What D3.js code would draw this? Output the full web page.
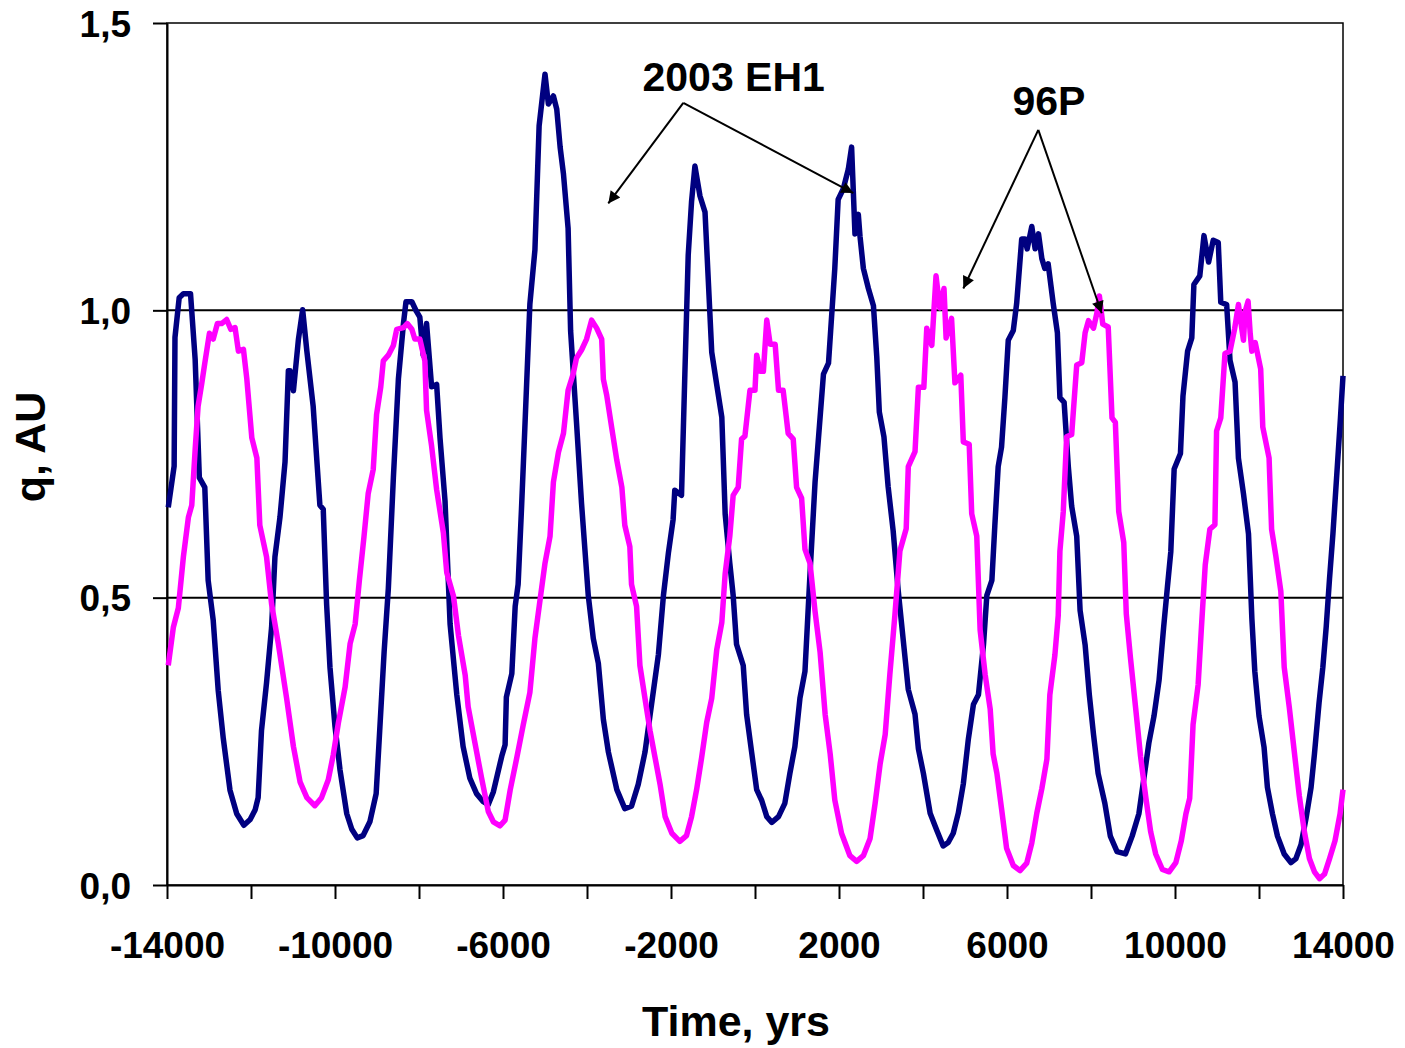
<!DOCTYPE html>
<html>
<head>
<meta charset="utf-8">
<script src="https://cdn.jsdelivr.net/npm/d3@7"></script>
<style>
  body { margin: 0; background: #fff; }
  text { font-family: "Liberation Sans", Arial, sans-serif; font-weight: bold; fill: #000; }
</style>
</head>
<body>
<div id="chart"></div>
<script>
/* 2003 EH1 perihelion distance (navy) */
var ehTime = [-13970, -13830, -13810, -13710, -13610, -13440, -13330, -13230, -13100, -13020,
  -12900, -12780, -12660, -12500, -12340, -12170, -12020, -11900, -11830, -11750,
  -11630, -11510, -11430, -11310, -11190, -11110, -11070, -10990, -10870, -10770,
  -10670, -10520, -10360, -10280, -10200, -10120, -10000, -9880, -9720, -9600,
  -9470, -9330, -9170, -9020, -8930, -8830, -8730, -8610, -8490, -8370,
  -8310, -8170, -8060, -7980, -7900, -7820, -7700, -7580, -7500, -7380,
  -7260, -7100, -6950, -6790, -6630, -6470, -6350, -6230, -6030, -5950,
  -5920, -5790, -5710, -5640, -5560, -5480, -5360, -5240, -5140, -5000,
  -4920, -4800, -4720, -4640, -4560, -4450, -4390, -4250, -4130, -3970,
  -3850, -3730, -3610, -3490, -3290, -3100, -2940, -2780, -2620, -2460,
  -2300, -2180, -2060, -1950, -1910, -1750, -1670, -1590, -1510, -1430,
  -1310, -1190, -1110, -1030, -910, -790, -710, -600, -520, -440,
  -280, -200, -80, 40, 160, 280, 400, 560, 710, 830,
  950, 1070, 1190, 1310, 1430, 1550, 1630, 1750, 1900, 1980,
  2100, 2220, 2300, 2380, 2460, 2500, 2580, 2700, 2820, 2900,
  2960, 3070, 3170, 3290, 3410, 3530, 3650, 3810, 3890, 4010,
  4170, 4330, 4480, 4600, 4720, 4840, 4960, 5080, 5200, 5320,
  5440, 5520, 5640, 5710, 5790, 5870, 5950, 6030, 6150, 6230,
  6350, 6430, 6480, 6590, 6670, 6750, 6830, 6900, 6980, 7100,
  7200, 7260, 7360, 7460, 7540, 7660, 7740, 7860, 7960, 8060,
  8170, 8330, 8460, 8620, 8820, 8980, 9140, 9260, 9380, 9500,
  9620, 9730, 9820, 9900, 9980, 10130, 10190, 10300, 10400, 10450,
  10590, 10690, 10800, 10910, 11030, 11090, 11230, 11310, 11430, 11510,
  11630, 11750, 11830, 11900, 12000, 12120, 12200, 12320, 12440, 12600,
  12760, 12880, 13000, 13120, 13240, 13320, 13430, 13520, 13600, 13680,
  13760, 13850, 13940, 14000];
var ehQ = [0.657, 0.729, 0.953, 1.022, 1.029, 1.029, 0.915, 0.709, 0.692, 0.530,
  0.461, 0.338, 0.255, 0.165, 0.124, 0.104, 0.114, 0.131, 0.152, 0.269,
  0.352, 0.448, 0.571, 0.640, 0.736, 0.895, 0.895, 0.860, 0.950, 1.001,
  0.929, 0.833, 0.661, 0.654, 0.489, 0.379, 0.276, 0.200, 0.124, 0.097,
  0.082, 0.086, 0.110, 0.159, 0.276, 0.406, 0.516, 0.709, 0.881, 0.977,
  1.015, 1.015, 0.998, 0.988, 0.922, 0.977, 0.867, 0.871, 0.778, 0.668,
  0.454, 0.331, 0.241, 0.186, 0.159, 0.145, 0.140, 0.162, 0.224, 0.244,
  0.327, 0.368, 0.485, 0.523, 0.654, 0.795, 1.011, 1.105, 1.321, 1.411,
  1.359, 1.373, 1.350, 1.284, 1.237, 1.143, 0.964, 0.805, 0.664, 0.504,
  0.429, 0.386, 0.288, 0.231, 0.166, 0.133, 0.137, 0.175, 0.231, 0.316,
  0.401, 0.504, 0.579, 0.636, 0.687, 0.678, 0.889, 1.096, 1.190, 1.251,
  1.199, 1.171, 1.049, 0.927, 0.870, 0.814, 0.645, 0.560, 0.504, 0.419,
  0.382, 0.297, 0.231, 0.166, 0.147, 0.119, 0.109, 0.119, 0.142, 0.194,
  0.241, 0.325, 0.372, 0.542, 0.701, 0.814, 0.889, 0.908, 1.073, 1.193,
  1.211, 1.245, 1.284, 1.133, 1.167, 1.129, 1.073, 1.038, 1.008, 0.918,
  0.823, 0.780, 0.693, 0.616, 0.512, 0.426, 0.340, 0.297, 0.237, 0.194,
  0.125, 0.095, 0.068, 0.074, 0.090, 0.125, 0.176, 0.254, 0.314, 0.331,
  0.418, 0.504, 0.530, 0.625, 0.728, 0.762, 0.848, 0.948, 0.965, 1.012,
  1.124, 1.124, 1.107, 1.146, 1.107, 1.133, 1.090, 1.073, 1.081, 1.012,
  0.961, 0.848, 0.840, 0.728, 0.659, 0.607, 0.478, 0.418, 0.331, 0.262,
  0.194, 0.142, 0.085, 0.058, 0.054, 0.085, 0.124, 0.186, 0.248, 0.294,
  0.356, 0.449, 0.519, 0.580, 0.724, 0.751, 0.851, 0.929, 0.952, 1.045,
  1.060, 1.130, 1.084, 1.122, 1.118, 1.014, 1.010, 0.913, 0.875, 0.743,
  0.681, 0.611, 0.464, 0.372, 0.294, 0.240, 0.170, 0.124, 0.085, 0.054,
  0.039, 0.046, 0.070, 0.116, 0.170, 0.228, 0.317, 0.379, 0.449, 0.534,
  0.611, 0.712, 0.813, 0.886];

/* 96P perihelion distance (magenta) */
var pTime = [-13970, -13850, -13730, -13610, -13490, -13410, -13330, -13260, -13170, -13100,
  -12990, -12900, -12800, -12700, -12580, -12480, -12380, -12300, -12180, -12100,
  -11980, -11860, -11790, -11630, -11510, -11350, -11150, -10990, -10830, -10670,
  -10480, -10320, -10160, -10040, -9920, -9760, -9640, -9520, -9420, -9310,
  -9210, -9090, -9010, -8910, -8850, -8730, -8610, -8530, -8370, -8280,
  -8170, -8100, -7980, -7860, -7820, -7700, -7580, -7420, -7340, -7180,
  -7060, -6900, -6830, -6670, -6510, -6350, -6230, -6070, -5950, -5830,
  -5670, -5520, -5360, -5240, -5120, -5000, -4880, -4800, -4680, -4560,
  -4450, -4330, -4250, -4130, -4010, -3890, -3770, -3650, -3610, -3530,
  -3410, -3290, -3170, -3100, -2980, -2940, -2820, -2740, -2620, -2500,
  -2380, -2260, -2140, -1980, -1790, -1630, -1510, -1390, -1270, -1150,
  -1030, -910, -790, -710, -600, -520, -400, -320, -240, -120,
  0, 40, 120, 200, 280, 360, 480, 560, 670, 790,
  910, 990, 1110, 1190, 1310, 1430, 1550, 1670, 1790, 1900,
  2060, 2260, 2420, 2580, 2740, 2860, 2980, 3100, 3210, 3330,
  3450, 3600, 3650, 3810, 3890, 4020, 4090, 4210, 4310, 4400,
  4500, 4550, 4680, 4760, 4900, 4960, 5100, 5160, 5280, 5360,
  5480, 5600, 5670, 5760, 5870, 5990, 6150, 6310, 6470, 6590,
  6710, 6830, 6950, 7020, 7140, 7220, 7260, 7340, 7420, 7540,
  7660, 7780, 7860, 7940, 8060, 8140, 8200, 8280, 8410, 8500,
  8580, 8660, 8780, 8840, 8940, 9060, 9180, 9300, 9420, 9540,
  9700, 9860, 10020, 10150, 10260, 10350, 10430, 10550, 10630, 10720,
  10830, 10950, 10990, 11090, 11190, 11310, 11420, 11510, 11590, 11630,
  11670, 11740, 11790, 11830, 11910, 12040, 12090, 12240, 12300, 12400,
  12520, 12600, 12720, 12840, 12960, 13080, 13200, 13320, 13440, 13560,
  13680, 13810, 13930, 14000];
var pQ = [0.382, 0.448, 0.482, 0.571, 0.640, 0.661, 0.757, 0.833, 0.874, 0.908,
  0.960, 0.950, 0.977, 0.977, 0.984, 0.967, 0.970, 0.929, 0.932, 0.881,
  0.778, 0.743, 0.626, 0.571, 0.489, 0.420, 0.324, 0.241, 0.179, 0.152,
  0.138, 0.152, 0.183, 0.227, 0.282, 0.344, 0.420, 0.454, 0.530, 0.606,
  0.681, 0.723, 0.819, 0.867, 0.912, 0.922, 0.939, 0.967, 0.970, 0.977,
  0.967, 0.950, 0.950, 0.912, 0.826, 0.764, 0.688, 0.613, 0.544, 0.503,
  0.434, 0.365, 0.310, 0.248, 0.186, 0.128, 0.110, 0.103, 0.113, 0.165,
  0.222, 0.278, 0.335, 0.429, 0.495, 0.560, 0.607, 0.701, 0.753, 0.786,
  0.861, 0.889, 0.917, 0.931, 0.950, 0.983, 0.969, 0.950, 0.880, 0.852,
  0.795, 0.739, 0.692, 0.626, 0.589, 0.523, 0.485, 0.382, 0.325, 0.269,
  0.222, 0.175, 0.119, 0.090, 0.076, 0.086, 0.119, 0.166, 0.222, 0.283,
  0.325, 0.410, 0.457, 0.542, 0.607, 0.678, 0.692, 0.776, 0.781, 0.861,
  0.861, 0.922, 0.894, 0.894, 0.983, 0.941, 0.941, 0.861, 0.861, 0.786,
  0.776, 0.692, 0.673, 0.584, 0.560, 0.476, 0.405, 0.297, 0.228, 0.148,
  0.090, 0.051, 0.041, 0.051, 0.081, 0.142, 0.211, 0.262, 0.366, 0.469,
  0.581, 0.620, 0.728, 0.754, 0.866, 0.866, 0.969, 0.939, 1.060, 1.004,
  1.038, 0.952, 0.986, 0.874, 0.887, 0.771, 0.767, 0.646, 0.607, 0.444,
  0.366, 0.306, 0.228, 0.194, 0.133, 0.064, 0.034, 0.025, 0.038, 0.073,
  0.125, 0.168, 0.219, 0.331, 0.400, 0.469, 0.581, 0.650, 0.780, 0.784,
  0.905, 0.909, 0.961, 0.982, 0.969, 0.995, 1.025, 0.976, 0.971, 0.813,
  0.805, 0.650, 0.596, 0.472, 0.395, 0.310, 0.224, 0.155, 0.093, 0.054,
  0.027, 0.023, 0.039, 0.077, 0.124, 0.151, 0.279, 0.348, 0.449, 0.557,
  0.619, 0.627, 0.790, 0.813, 0.925, 0.929, 0.968, 1.010, 0.968, 0.948,
  0.998, 1.016, 0.960, 0.929, 0.944, 0.898, 0.797, 0.743, 0.619, 0.573,
  0.511, 0.379, 0.310, 0.232, 0.155, 0.093, 0.046, 0.023, 0.011, 0.019,
  0.046, 0.077, 0.124, 0.166];

/* axis ticks */
var xTicks = [-14000, -12000, -10000, -8000, -6000, -4000, -2000, 0, 2000, 4000, 6000, 8000, 10000, 12000, 14000];
var xTickLabels = ["-14000", "", "-10000", "", "-6000", "", "-2000", "", "2000", "", "6000", "", "10000", "", "14000"];
var yTicks = [0, 0.5, 1.0, 1.5];
var yTickLabels = ["0,0", "0,5", "1,0", "1,5"];
var gridValues = [0.5, 1.0];

/* annotation labels and arrows, in data units [time, q] */
var ehLabel = { text: "2003 EH1", at: [-507, 1.382] };
var ehArrows = { from: [-1707, 1.361], to: [[-3493, 1.186], [2341, 1.204]] };
var pLabel = { text: "96P", at: [7000, 1.340] };
var pArrows = { from: [6745, 1.314], to: [[4960, 1.038], [8255, 0.995]] };

var chart = {};
chart.margin = { top: 23, right: 62, bottom: 163, left: 167 };
chart.width = 1405 - chart.margin.left - chart.margin.right;
chart.height = 1048 - chart.margin.top - chart.margin.bottom;

var svg = d3.select("#chart").append("svg")
  .attr("width", 1405)
  .attr("height", 1048);

/* defs: arrow head */
svg.append("defs").append("marker")
  .attr("id", "arrowhead")
  .attr("viewBox", "0 0 10 10")
  .attr("refX", 10)
  .attr("refY", 5)
  .attr("markerWidth", 7)
  .attr("markerHeight", 6)
  .attr("markerUnits", "strokeWidth")
  .attr("orient", "auto")
  .append("path")
  .attr("d", "M0,0 L10,5 L0,10 z")
  .style("fill", "#000");

chart.obj = svg.append("g")
  .attr("transform", "translate(" + chart.margin.left + "," + chart.margin.top + ")");

/* scales */
chart.x = d3.scaleLinear().domain([-14000, 14000]).range([0, chart.width]);
chart.y = d3.scaleLinear().domain([0, 1.5]).range([chart.height, 0]);

/* plot frame */
chart.obj.append("rect")
  .attr("x", 0)
  .attr("y", 0)
  .attr("width", chart.width)
  .attr("height", chart.height)
  .style("fill", "none")
  .style("stroke", "#000")
  .style("stroke-width", 1.5);

/* horizontal grid lines */
chart.obj.selectAll(".grid")
  .data(gridValues)
  .enter()
  .append("line")
  .attr("class", "grid")
  .attr("x1", 0)
  .attr("x2", chart.width)
  .attr("y1", function (d) { return chart.y(d); })
  .attr("y2", function (d) { return chart.y(d); })
  .style("stroke", "#000")
  .style("stroke-width", 2);

/* x axis */
var xAxis = chart.obj.append("g")
  .attr("class", "x axis")
  .attr("transform", "translate(0," + chart.height + ")")
  .call(d3.axisBottom(chart.x)
    .tickValues(xTicks)
    .tickSize(14)
    .tickSizeOuter(0)
    .tickFormat(function (d, i) { return xTickLabels[i]; }));
xAxis.selectAll("text")
  .attr("y", 73)
  .attr("dy", null)
  .style("font-size", "37px");

/* y axis */
var yAxis = chart.obj.append("g")
  .attr("class", "y axis")
  .call(d3.axisLeft(chart.y)
    .tickValues(yTicks)
    .tickSize(14)
    .tickSizeOuter(0)
    .tickFormat(function (d, i) { return yTickLabels[i]; }));
yAxis.selectAll("text")
  .attr("x", -36)
  .attr("dy", "0.36em")
  .style("font-size", "37px");

chart.obj.selectAll(".axis path, .axis line")
  .style("stroke", "#000")
  .style("stroke-width", 2);

/* series lines */
var line = d3.line()
  .x(function (d) { return chart.x(d.t); })
  .y(function (d) { return chart.y(d.q); });

var ehData = ehTime.map(function (t, i) { return { t: t, q: ehQ[i] }; });
var pData = pTime.map(function (t, i) { return { t: t, q: pQ[i] }; });

chart.obj.append("path")
  .datum(ehData)
  .attr("id", "line_2003eh1")
  .attr("d", line)
  .style("fill", "none")
  .style("stroke", "#000080")
  .style("stroke-width", 5.5)
  .style("stroke-linejoin", "round");

chart.obj.append("path")
  .datum(pData)
  .attr("id", "line_96p")
  .attr("d", line)
  .style("fill", "none")
  .style("stroke", "#FF00FF")
  .style("stroke-width", 5.5)
  .style("stroke-linejoin", "round");

/* annotations */
function drawCallout(label, arrows) {
  chart.obj.append("text")
    .attr("x", chart.x(label.at[0]))
    .attr("y", chart.y(label.at[1]))
    .style("font-size", "41px")
    .style("text-anchor", "middle")
    .text(label.text);

  arrows.to.forEach(function (p) {
    chart.obj.append("line")
      .attr("x1", chart.x(arrows.from[0]))
      .attr("y1", chart.y(arrows.from[1]))
      .attr("x2", chart.x(p[0]))
      .attr("y2", chart.y(p[1]))
      .style("stroke", "#000")
      .style("stroke-width", 2)
      .attr("marker-end", "url(#arrowhead)");
  });
}
drawCallout(ehLabel, ehArrows);
drawCallout(pLabel, pArrows);

/* axis titles */
svg.append("text")
  .attr("x", 736)
  .attr("y", 1036)
  .style("font-size", "43px")
  .style("text-anchor", "middle")
  .text("Time, yrs");

svg.append("text")
  .attr("transform", "translate(45,447) rotate(-90)")
  .style("font-size", "43px")
  .style("text-anchor", "middle")
  .text("q, AU");
</script>
</body>
</html>
